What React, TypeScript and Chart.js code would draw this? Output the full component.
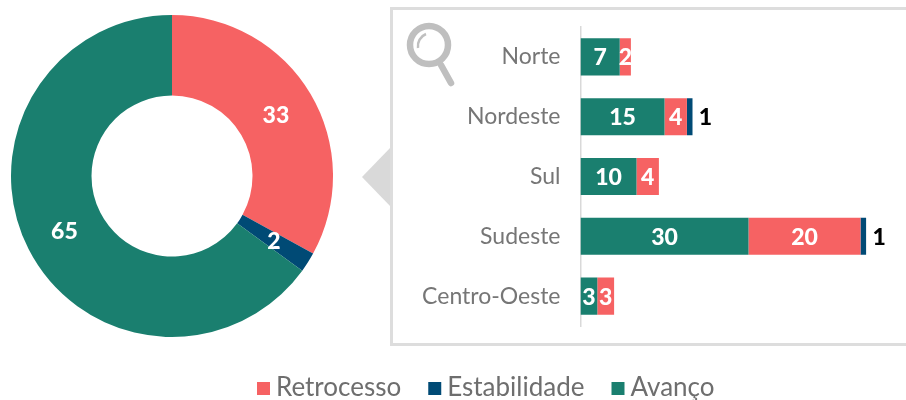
import React, { useEffect, useRef } from "react";
import { Chart, registerables } from "chart.js";

Chart.register(...registerables);

const segments = ["Retrocesso", "Estabilidade", "Avanço"];
const totals = [33, 2, 65];
const regions = ["Norte", "Nordeste", "Sul", "Sudeste", "Centro-Oeste"];
const avanco = [7, 15, 10, 30, 3];
const retrocesso = [2, 4, 4, 20, 3];
const estabilidade = [null, 1, null, 1, null];

const RED = "#F66263";
const NAVY = "#004A75";
const GREEN = "#1A7F6F";
const FONT = "Lato";

// legend swatch: a 13px square placed so the label sits 6px from it
function swatch(color: string) {
  const c = document.createElement("canvas");
  c.width = 26;
  c.height = 13;
  const g = c.getContext("2d")!;
  g.fillStyle = color;
  g.fillRect(10, 0, 13, 13);
  return c;
}

const sliceLabels = {
  id: "sliceLabels",
  afterDatasetsDraw(chart: any) {
    const { ctx } = chart;
    const meta = chart.getDatasetMeta(0);
    ctx.save();
    ctx.font = `900 23px ${FONT}`;
    ctx.fillStyle = "#fff";
    ctx.textAlign = "center";
    ctx.textBaseline = "middle";
    meta.data.forEach((arc: any, i: number) => {
      const p = arc.tooltipPosition();
      ctx.fillText(String(totals[i]), p.x, p.y + 1);
    });
    ctx.restore();
  },
};

const barLabels = {
  id: "barLabels",
  afterDatasetsDraw(chart: any) {
    const { ctx } = chart;
    ctx.save();
    ctx.font = `900 23px ${FONT}`;
    ctx.textBaseline = "middle";
    ctx.textAlign = "center";
    chart.data.datasets.forEach((ds: any, d: number) => {
      const meta = chart.getDatasetMeta(d);
      meta.data.forEach((bar: any, i: number) => {
        const v = ds.data[i];
        if (v == null) return;
        if (ds.label === "Estabilidade") {
          ctx.fillStyle = "#000";
          ctx.fillText(String(v), bar.x + 13, bar.y + 1);
        } else {
          ctx.fillStyle = "#fff";
          ctx.fillText(String(v), (bar.base + bar.x) / 2, bar.y + 1);
        }
      });
    });
    ctx.restore();
  },
};

export default function App() {
  const donutRef = useRef<HTMLCanvasElement>(null);
  const barRef = useRef<HTMLCanvasElement>(null);

  useEffect(() => {
    const donut = new Chart(donutRef.current!, {
      type: "doughnut",
      data: {
        labels: segments,
        datasets: [{ data: totals, backgroundColor: [RED, NAVY, GREEN], borderWidth: 0 }],
      },
      options: {
        animation: false,
        responsive: false,
        cutout: "50%",
        layout: { padding: 11 },
        plugins: { legend: { display: false }, tooltip: { enabled: false } },
      },
      plugins: [sliceLabels],
    } as any);

    const order = segments;
    const bar = new Chart(barRef.current!, {
      type: "bar",
      data: {
        labels: regions,
        datasets: [
          { label: "Avanço", data: avanco, backgroundColor: GREEN },
          { label: "Retrocesso", data: retrocesso, backgroundColor: RED },
          { label: "Estabilidade", data: estabilidade, backgroundColor: NAVY },
        ],
      },
      options: {
        animation: false,
        responsive: false,
        indexAxis: "y",
        layout: { padding: { top: 27, right: 20.5, left: 0, bottom: 0 } },
        datasets: { bar: { categoryPercentage: 1, barPercentage: 0.62 } },
        scales: {
          x: {
            stacked: true,
            min: 0,
            max: 55,
            grid: { display: false },
            border: { display: false },
            ticks: { display: false },
            afterFit: (s: any) => { s.height = 22; },
          },
          y: {
            stacked: true,
            grid: { display: false, drawTicks: false },
            border: { display: true, color: "#D9D9D9", width: 1.5 },
            ticks: { color: "#767676", font: { family: FONT, size: 23 }, padding: 20 },
            afterFit: (s: any) => { s.width = 497.5; s.paddingTop = 0; s.paddingBottom = 0; },
          },
        },
        plugins: {
          tooltip: { enabled: false },
          legend: {
            position: "bottom",
            labels: {
              usePointStyle: true,
              boxWidth: 6,
              boxHeight: 13,
              padding: 27,
              color: "#6E6E6E",
              font: { family: FONT, size: 26 },
              generateLabels: (chart: any) =>
                Chart.defaults.plugins.legend.labels.generateLabels(chart).map((item: any) => ({
                  ...item,
                  pointStyle: swatch(item.fillStyle),
                })),
              sort: (a: any, b: any) => order.indexOf(a.text) - order.indexOf(b.text),
            },
          },
        },
      },
      plugins: [barLabels],
    } as any);

    return () => {
      donut.destroy();
      bar.destroy();
    };
  }, []);

  return (
    <div style={{ position: "fixed", left: 0, top: 0, width: 906, height: 400, background: "#fff", overflow: "hidden" }}>
      <svg width={906} height={400} style={{ position: "absolute", left: 0, top: 0 }}>
        <polygon points="362,177 391,147 391,207" fill="#D9D9D9" />
        <rect x={391.5} y={8.5} width={530} height={336} fill="#fff" stroke="#DDDDDD" strokeWidth={3} />
        <circle cx={429} cy={45} r={19} fill="none" stroke="#BFBFBF" strokeWidth={6.5} />
        <path d="M418 48 A13 13 0 0 1 426 34" fill="none" stroke="#BFBFBF" strokeWidth={2.5} />
        <line x1={441} y1={65} x2={451} y2={83} stroke="#BFBFBF" strokeWidth={6.5} strokeLinecap="round" />
      </svg>
      <canvas ref={donutRef} width={344} height={352} style={{ position: "absolute", left: 0, top: 0 }} />
      <canvas ref={barRef} width={826} height={411} style={{ position: "absolute", left: 83, top: 0 }} />
    </div>
  );
}
